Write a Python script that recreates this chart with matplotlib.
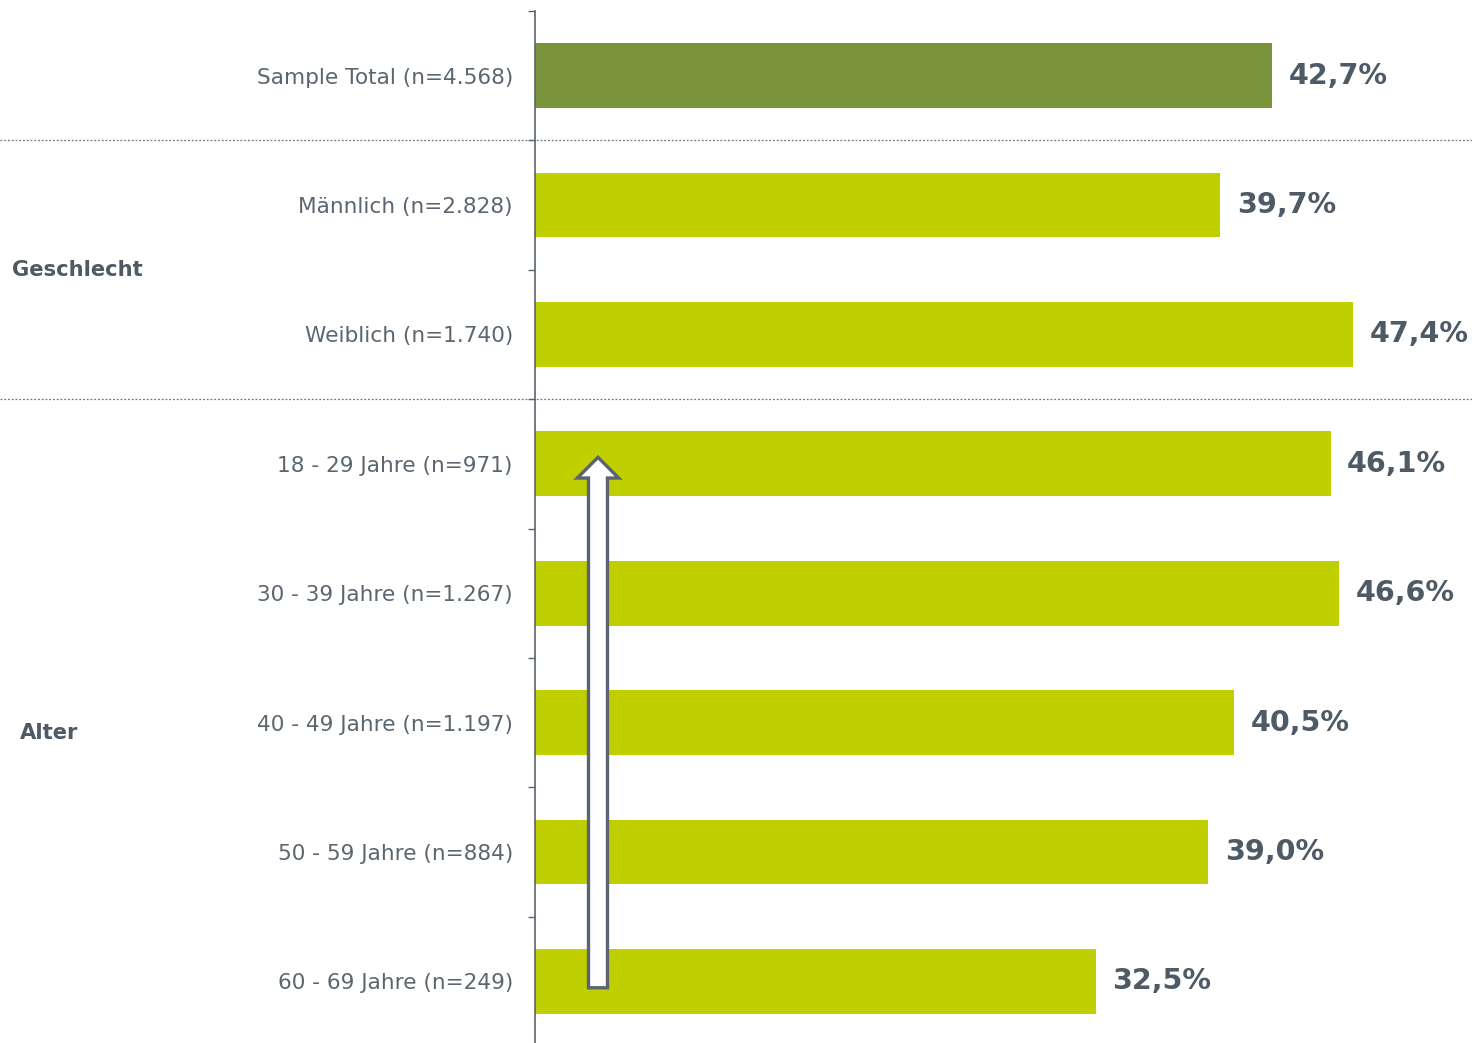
import matplotlib
matplotlib.use("Agg")
import matplotlib.pyplot as plt
import numpy as np
from matplotlib.patches import FancyArrow
from matplotlib.transforms import blended_transform_factory

# data
labels = ["Sample Total (n=4.568)", "Männlich (n=2.828)", "Weiblich (n=1.740)",
          "18 - 29 Jahre (n=971)", "30 - 39 Jahre (n=1.267)", "40 - 49 Jahre (n=1.197)",
          "50 - 59 Jahre (n=884)", "60 - 69 Jahre (n=249)"]
values = [42.7, 39.7, 47.4, 46.1, 46.6, 40.5, 39.0, 32.5]
groups = ["Geschlecht", "Alter"]
group_rows = [1.5, 5.08]       # vertical centre of the group labels
group_x = [12, 20]             # pixel offset from the left edge
separators = [0.5, 2.5]

dark_green = "#7a943c"
lime = "#bfcf00"
label_grey = "#5b6670"
value_grey = "#4e5a66"
axis_grey = "#5a6470"

plt.rcParams["font.family"] = ["DejaVu Sans"]

fig = plt.figure(figsize=(14.72, 10.43), dpi=100)
ax = fig.add_axes([535 / 1472, -3 / 1043, 1 - 535 / 1472, 1035 / 1043])

y = np.arange(len(labels))
colors = [dark_green] + [lime] * (len(labels) - 1)
ax.barh(y, values, height=0.5, color=colors, zorder=2)

ax.set_xlim(0, 54.3)
ax.set_ylim(len(labels) - 0.5, -0.5)

# value labels next to the bars
for yi, v in zip(y, values):
    ax.annotate(f"{v:.1f}%".replace(".", ","), (v, yi), xytext=(12, 0),
                textcoords="offset points", va="center", ha="left",
                fontsize=20.6, fontweight="bold", color=value_grey)

# category labels, ticks between the rows
ax.set_yticks(y)
ax.set_yticklabels(labels, fontsize=15.6, color=label_grey)
ax.tick_params(axis="y", which="major", length=0, pad=16)
ax.set_yticks(np.arange(-0.5, len(labels) + 0.5, 1), minor=True)
ax.tick_params(axis="y", which="minor", length=5, color=axis_grey, width=1)
ax.set_xticks([])

for side in ["top", "right", "bottom"]:
    ax.spines[side].set_visible(False)
ax.spines["left"].set_color(axis_grey)
ax.spines["left"].set_linewidth(1.2)

# dotted separators across the full width
trans = blended_transform_factory(fig.transFigure, ax.transData)
for s in separators:
    ax.plot([0, 1], [s, s], transform=trans, color="#6b7580", lw=0.9,
            linestyle=(0, (1.5, 1.5)), clip_on=False, zorder=1)

# group labels on the far left
for g, gy, gx in zip(groups, group_rows, group_x):
    ax.text(gx / 1472, gy, g, transform=trans, ha="left", va="center",
            fontsize=15.2, fontweight="bold", color=value_grey)

# hollow arrow pointing upwards over the age rows
arrow = FancyArrow(3.65, 7.05, 0, -4.1, width=1.1, head_width=2.4,
                   head_length=0.16, length_includes_head=True,
                   facecolor="white", edgecolor=axis_grey, linewidth=2.4, zorder=3)
ax.add_patch(arrow)

fig.savefig("out.png", dpi=100, facecolor="white")
